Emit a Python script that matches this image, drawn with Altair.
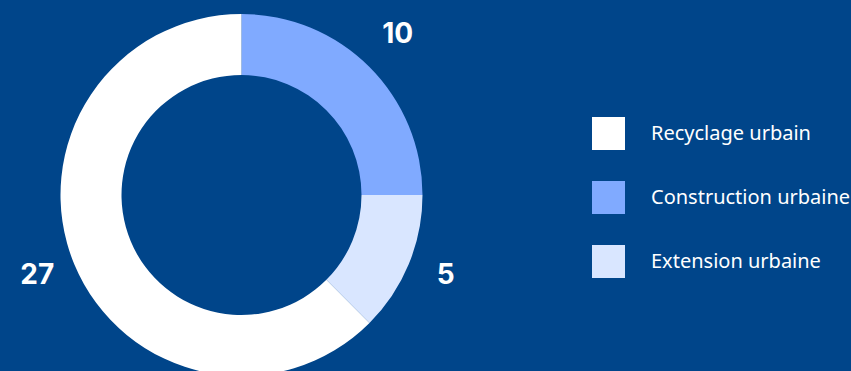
import altair as alt
import pandas as pd

# Slices, in drawing order clockwise from the top
categories = ["Construction urbaine", "Extension urbaine", "Recyclage urbain"]
# share of the ring (percent)
shares = [25.0, 12.5, 62.5]
# value labels printed next to each slice
label_texts = ["10", "5", "27"]
draw_order = [0, 1, 2]

legend_order = ["Recyclage urbain", "Construction urbaine", "Extension urbaine"]
legend_colors = ["#ffffff", "#80aaff", "#d9e6ff"]

df = pd.DataFrame({
    "category": categories,
    "share": shares,
    "label": label_texts,
    "ord": draw_order,
})

CX, CY = 241.5, 195

base = alt.Chart(df).encode(
    theta=alt.Theta("share:Q", stack=True),
    order=alt.Order("ord:Q", sort="ascending"),
)

arc = base.mark_arc(outerRadius=181, innerRadius=120, strokeWidth=0).encode(
    x=alt.value(CX),
    y=alt.value(CY),
    color=alt.Color(
        "category:N",
        scale=alt.Scale(domain=legend_order, range=legend_colors),
        legend=alt.Legend(title=None),
    ),
)

text = base.mark_text(
    radius=221, font="Inter", fontSize=28, fontWeight="bold", color="#ffffff",
    align="center", baseline="middle", dy=-4,
).encode(
    x=alt.value(CX),
    y=alt.value(CY),
    text="label:N",
)

chart = alt.layer(arc, text).properties(
    width=851,
    height=371,
    background="#00458a",
    padding=0,
    autosize=alt.AutoSizeParams(type="none"),
).configure_view(
    strokeWidth=0,
).configure_legend(
    orient="none",
    legendX=592,
    legendY=117,
    padding=0,
    symbolType="square",
    symbolSize=1089,
    symbolStrokeWidth=0,
    symbolOpacity=1,
    labelFont="Noto Sans",
    labelFontSize=20,
    labelColor="#ffffff",
    labelOffset=26,
    rowPadding=31,
    labelLimit=400,
)

chart.save("out.html", embed_options={"renderer": "svg", "actions": False})
